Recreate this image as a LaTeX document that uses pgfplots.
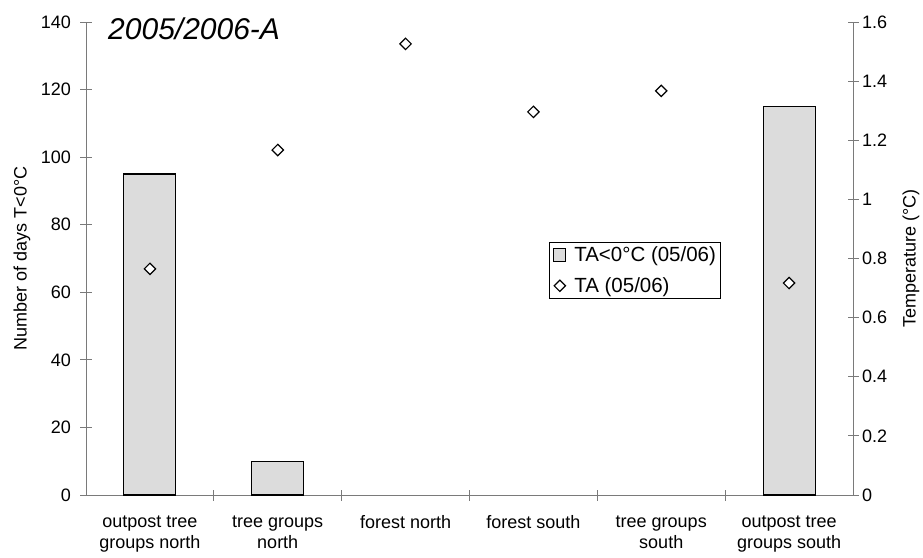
\documentclass[border=0pt]{standalone}
\usepackage{fontspec}
\setmainfont{Liberation Sans}
\usepackage{pgfplots}
\pgfplotsset{compat=1.18}
\definecolor{barfill}{HTML}{DCDCDC}
\definecolor{axisgray}{HTML}{7A7A7A}
\begin{document}
\begin{tikzpicture}
\useasboundingbox (-86pt,-62pt) rectangle (837pt,495pt);
\pgfplotsset{
  base/.style={
    at={(0pt,0pt)}, anchor=south west,
    scale only axis, width=767pt, height=473pt,
    xmin=-0.5, xmax=5.5,
    /pgf/number format/assume math mode=true,
    tick label style={font=\fontsize{18}{21}\selectfont},
    label style={font=\fontsize{18}{21}\selectfont},
    tick align=center,
    major tick length=11pt,
    axis line style={axisgray, line width=0.9pt},
    tick style={axisgray, line width=0.9pt},
  }
}
\begin{axis}[base, clip=false,
  ymin=0, ymax=140, ytick={0,20,...,140},
  axis x line*=bottom, axis y line*=left,
  yticklabel style={xshift=-6pt},
  xtick={0.5,1.5,2.5,3.5,4.5}, xticklabels={},
  extra x ticks={0,1,2,3,4,5},
  extra x tick labels={{outpost tree\\groups north},{tree groups\\north},{forest north},{forest south},{tree groups\\south},{outpost tree\\groups south}},
  extra x tick style={major tick length=0pt, xticklabel style={align=center, anchor=north, yshift=-17pt}},
  ylabel={Number of days T<0°C},
  ylabel style={at={(axis description cs:-0.0834,0.5)}, anchor=center},
]
\addplot[ybar, bar width=52pt, fill=barfill, draw=black, line width=1.1pt] coordinates {(0,95) (1,10) (5,115)};
\node[anchor=base west, inner sep=0pt, font=\fontsize{30}{32}\selectfont\itshape] at (axis description cs:0.0287,0.964) {2005/2006-A};
\end{axis}
\begin{axis}[base, clip=false,
  ymin=0, ymax=1.6, ytick={0,0.2,0.4,0.6,0.8,1,1.2,1.4,1.6},
  axis y line*=right, axis x line=none,
  ylabel={Temperature (°C)},
  ylabel style={at={(axis description cs:1.0756,0.5)}, anchor=center},
  legend style={at={(axis description cs:0.6036,0.535)}, anchor=north west, draw=black, line width=0.6pt,
    font=\fontsize{20.5}{22}\selectfont, row sep=11pt, inner xsep=2pt, inner ysep=2pt},
  legend cell align=left,
]
\addlegendimage{legend image code/.code={\path[draw=none, fill=none] (0pt,0pt) -- (21pt,0pt); \draw[fill=barfill, draw=black, line width=0.8pt] (2pt,-6.5pt) rectangle (14.5pt,6pt);}}
\addlegendentry{TA<0°C (05/06)}
\addplot[only marks, mark=square*, mark size=4pt, mark options={rotate=45, fill=white, draw=black, line width=1.2pt}] coordinates {(0,0.765) (1,1.167) (2,1.526) (3,1.296) (4,1.367) (5,0.717)};
\addlegendentry{TA (05/06)}
\end{axis}
\end{tikzpicture}
\end{document}
